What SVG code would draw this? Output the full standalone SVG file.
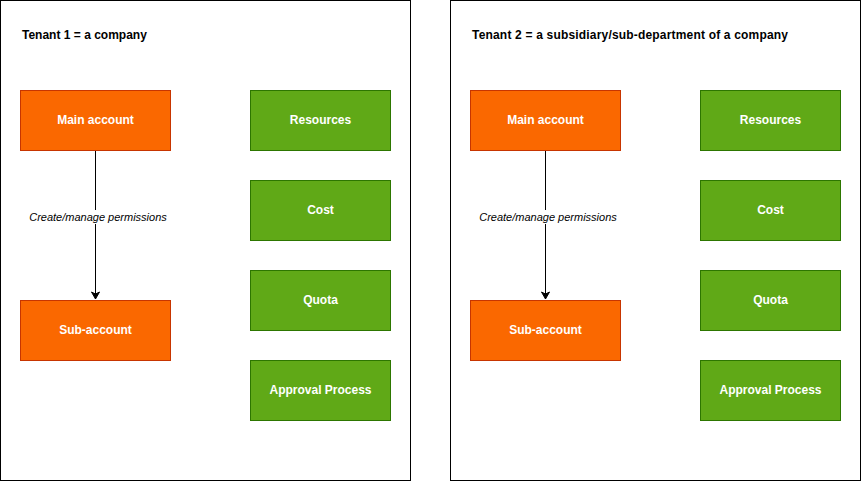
<svg xmlns="http://www.w3.org/2000/svg" width="861" height="481" viewBox="0 0 861 481">
<style>
.frame{fill:#fff;stroke:#000;stroke-width:1}
.org{fill:#fa6800;stroke:#c73500;stroke-width:1}
.grn{fill:#60a917;stroke:#2d7600;stroke-width:1}
.lbl{font-family:"Liberation Sans",Arial,sans-serif;font-size:12px;font-weight:bold;fill:#fff;text-anchor:middle}
.ttl{font-family:"Liberation Sans",Arial,sans-serif;font-size:12px;font-weight:bold;fill:#000}
.edge{font-family:"Liberation Sans",Arial,sans-serif;font-size:11px;font-style:italic;fill:#000;text-anchor:middle}
.line{stroke:#000;stroke-width:1;fill:none}
</style>
<defs>
<marker id="arr" markerWidth="10" markerHeight="10" refX="8" refY="5" orient="auto" markerUnits="userSpaceOnUse">
<path d="M1,1 L8,5 L1,9 L3,5 Z" fill="#000" stroke="#000"/>
</marker>
</defs>
<rect width="861" height="481" fill="#fff"/>
<g id="tenant1">
<rect class="frame" x="0.5" y="0.5" width="410" height="480"/>
<text class="ttl" x="22" y="39">Tenant 1 = a company</text>
</g>
<g id="tenant2">
<rect class="frame" x="450.5" y="0.5" width="410" height="480"/>
<text class="ttl" x="472" y="39" textLength="316" lengthAdjust="spacing">Tenant 2 = a subsidiary/sub-department of a company</text>
</g>
<g id="connectors">
<g id="edge1">
<path class="line" d="M95.5,150.5 L95.5,299" marker-end="url(#arr)"/>
<rect x="28" y="210" width="140" height="14" fill="#fff"/>
<text class="edge" x="98" y="221">Create/manage permissions</text>
</g>
<g id="edge2">
<path class="line" d="M545.5,150.5 L545.5,299" marker-end="url(#arr)"/>
<rect x="478" y="210" width="140" height="14" fill="#fff"/>
<text class="edge" x="548" y="221">Create/manage permissions</text>
</g>
</g>
<g id="main1"><rect class="org" x="20.5" y="90.5" width="150" height="60"/><text class="lbl" x="95.5" y="123.5">Main account</text></g>
<g id="sub1"><rect class="org" x="20.5" y="300.5" width="150" height="60"/><text class="lbl" x="95.5" y="333.5">Sub-account</text></g>
<g id="res1"><rect class="grn" x="250.5" y="90.5" width="140" height="60"/><text class="lbl" x="320.5" y="123.5">Resources</text></g>
<g id="cost1"><rect class="grn" x="250.5" y="180.5" width="140" height="60"/><text class="lbl" x="320.5" y="213.5">Cost</text></g>
<g id="quota1"><rect class="grn" x="250.5" y="270.5" width="140" height="60"/><text class="lbl" x="320.5" y="303.5">Quota</text></g>
<g id="appr1"><rect class="grn" x="250.5" y="360.5" width="140" height="60"/><text class="lbl" x="320.5" y="393.5">Approval Process</text></g>
<g id="main2"><rect class="org" x="470.5" y="90.5" width="150" height="60"/><text class="lbl" x="545.5" y="123.5">Main account</text></g>
<g id="sub2"><rect class="org" x="470.5" y="300.5" width="150" height="60"/><text class="lbl" x="545.5" y="333.5">Sub-account</text></g>
<g id="res2"><rect class="grn" x="700.5" y="90.5" width="140" height="60"/><text class="lbl" x="770.5" y="123.5">Resources</text></g>
<g id="cost2"><rect class="grn" x="700.5" y="180.5" width="140" height="60"/><text class="lbl" x="770.5" y="213.5">Cost</text></g>
<g id="quota2"><rect class="grn" x="700.5" y="270.5" width="140" height="60"/><text class="lbl" x="770.5" y="303.5">Quota</text></g>
<g id="appr2"><rect class="grn" x="700.5" y="360.5" width="140" height="60"/><text class="lbl" x="770.5" y="393.5">Approval Process</text></g>
</svg>
